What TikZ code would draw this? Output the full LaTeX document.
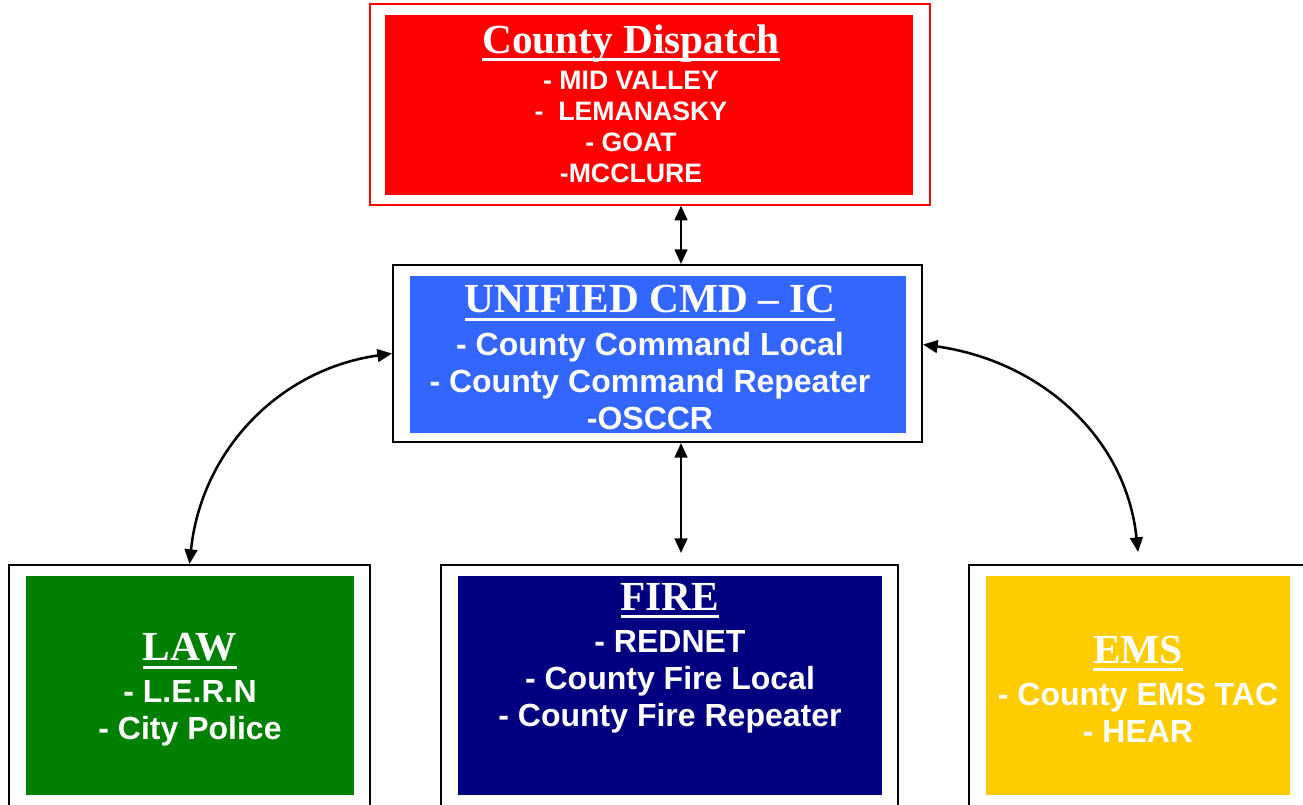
\documentclass[tikz,border=0pt]{standalone}
\usepackage{fontspec}
\setmainfont{Liberation Serif}
\setsansfont{Liberation Sans}
\usetikzlibrary{arrows.meta}

\definecolor{dispred}{HTML}{FF0000}
\definecolor{cmdblue}{HTML}{3366FF}
\definecolor{lawgreen}{HTML}{008000}
\definecolor{firenavy}{HTML}{000080}
\definecolor{emsyellow}{HTML}{FFCC00}

% underlined serif heading
\newcommand{\ttl}[1]{\setbox0\hbox{\rmfamily\bfseries\fontsize{31}{36}\selectfont #1}\usebox0\llap{\rule[-6pt]{\wd0}{2.25pt}}}

\begin{document}
\begin{tikzpicture}[
    x=0.75pt, y=0.75pt,
    frame/.style={draw, line width=1.5pt, fill=white, inner sep=0pt, minimum height=180.75pt},
    panel/.style={inner sep=0pt, minimum height=164.25pt},
    txt/.style={text=white, align=center, inner sep=0pt, font=\sffamily\bfseries\fontsize{24}{27.75}\selectfont},
    small txt/.style={txt, font=\sffamily\bfseries\fontsize{20}{23.25}\selectfont},
    link/.style={{Triangle[length=11pt,width=9.5pt]}-{Triangle[length=11pt,width=9.5pt]}, line width=1.9pt}
    ]
    \useasboundingbox (0,0) rectangle (1303,804);

    % dispatch
    \node[frame, draw=dispred, line width=1pt, minimum width=420pt, minimum height=150.75pt] (dispF) at (650,699.5) {};
    \node[panel, fill=dispred, minimum width=396pt, minimum height=135pt] (disp) at (649,699) {};
    \node[small txt] (dispT) at (631,700.5) {\ttl{County Dispatch}\\[4pt] - MID VALLEY\\ -~ LEMANASKY\\ - GOAT\\ -MCCLURE};

    % unified command
    \node[frame, minimum width=396.75pt, minimum height=132.75pt] (cmdF) at (657.5,450.5) {};
    \node[panel, fill=cmdblue, minimum width=372pt, minimum height=117.75pt] (cmd) at (658,449.5) {};
    \node[txt] (cmdT) at (650,446.5) {\ttl{UNIFIED CMD -- IC}\\[4pt] - County Command Local\\ - County Command Repeater\\ -OSCCR};

    % bottom row
    \node[frame, minimum width=270.75pt] (lawF) at (189.5,118.5) {};
    \node[panel, fill=lawgreen, minimum width=246pt] (law) at (190,118.5) {};
    \node[txt] (lawT) at (190,114) {\ttl{LAW}\\[4pt] - L.E.R.N\\ - City Police};

    \node[frame, minimum width=342.75pt] (fireF) at (669.5,118.5) {};
    \node[panel, fill=firenavy, minimum width=318pt] (fire) at (670,118.5) {};
    \node[txt] (fireT) at (670,146) {\ttl{FIRE}\\[4pt] - REDNET\\ - County Fire Local\\ - County Fire Repeater};

    \node[frame, minimum width=253.5pt] (emsF) at (1138,118.5) {};
    \node[panel, fill=emsyellow, minimum width=228pt] (ems) at (1138,118.5) {};
    \node[txt] (emsT) at (1138,115) {\ttl{EMS}\\[4pt] - County EMS TAC\\ - HEAR};

    % radio links
    \draw[link] ([xshift=23.25pt]dispF.south) -- ([xshift=17.625pt]cmdF.north);
    \draw[link] ([xshift=17.625pt]cmdF.south) -- ([xshift=8.625pt,yshift=8.25pt]fireF.north);
    \draw[link] (cmdF.west) to[out=188, in=84] (lawF.north);
    \draw[link] ([yshift=6.75pt]cmdF.east) to[out=-8, in=96] ([yshift=9pt]emsF.north);
\end{tikzpicture}
\end{document}
